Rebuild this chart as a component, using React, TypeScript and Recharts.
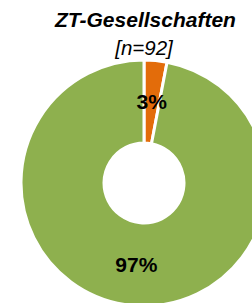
import { PieChart, Pie, Cell } from "recharts";

const categories = ["ja", "nein"];
const shares = [3, 97];
const sliceColors = ["#E36C0A", "#8EB04E"];
const title = "ZT-Gesellschaften";
const subtitle = "[n=92]";

const data = categories.map((name, i) => ({ name, value: shares[i] }));

const RADIAN = Math.PI / 180;
const FONT = "'Liberation Sans', Arial, sans-serif";

const renderLabel = (props: any) => {
    const { cx, cy, midAngle, innerRadius, outerRadius, value } = props;
    const r = (innerRadius + outerRadius) / 2;
    const x = cx + r * Math.cos(-midAngle * RADIAN);
    const y = cy + r * Math.sin(-midAngle * RADIAN);
    return (
        <text x={x} y={y} textAnchor="middle" dominantBaseline="central"
            fontFamily={FONT} fontWeight="bold" fontSize={21} fill="#000">
            {`${value}%`}
        </text>
    );
};

export default function App() {
    return (
        <div style={{ position: "absolute", left: 0, top: 0, width: 252, height: 303, background: "#fff", overflow: "hidden" }}>
            <PieChart width={252} height={303} margin={{ top: 0, right: 0, bottom: 0, left: 0 }}>
                <Pie
                    data={data}
                    dataKey="value"
                    nameKey="name"
                    cx={144}
                    cy={183}
                    innerRadius={40}
                    outerRadius={123}
                    startAngle={90}
                    endAngle={-270}
                    stroke="#fff"
                    strokeWidth={3}
                    label={renderLabel}
                    labelLine={false}
                    isAnimationActive={false}
                >
                    {data.map((entry, index) => (
                        <Cell key={`cell-${index}`} fill={sliceColors[index]} />
                    ))}
                </Pie>
            </PieChart>
            <svg width={252} height={303} style={{ position: "absolute", left: 0, top: 0, pointerEvents: "none" }}>
                <text x={145.5} y={27} textAnchor="middle" fontFamily={FONT} fontWeight="bold" fontStyle="italic" fontSize={21} fill="#000">
                    {title}
                </text>
                <text x={144} y={55} textAnchor="middle" fontFamily={FONT} fontStyle="italic" fontSize={20.5} fill="#000">
                    {subtitle}
                </text>
            </svg>
        </div>
    );
}
